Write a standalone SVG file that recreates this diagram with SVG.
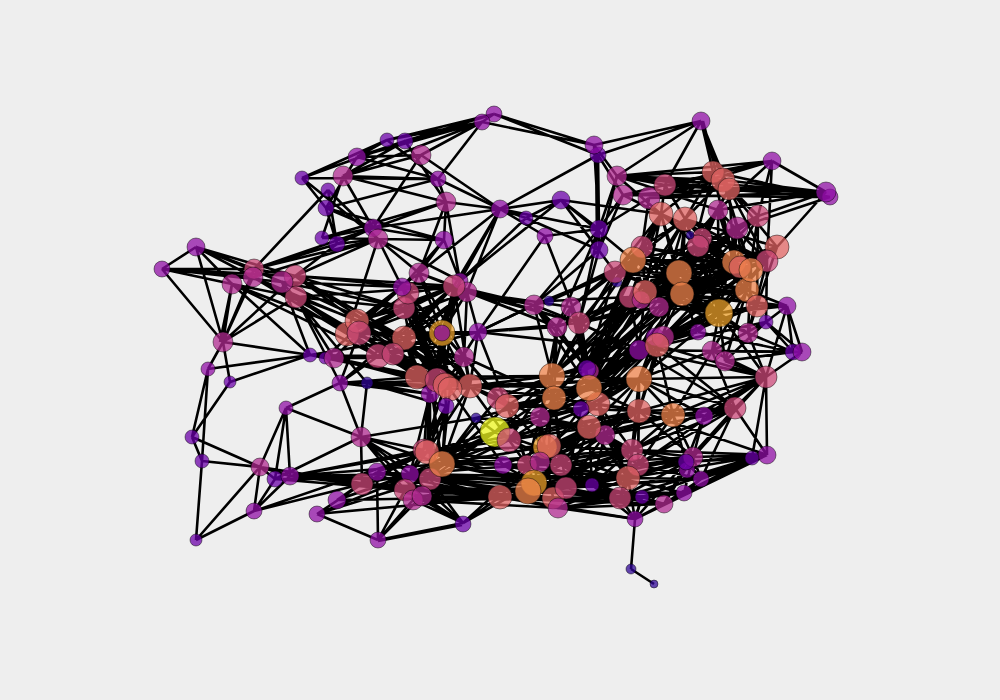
<svg xmlns="http://www.w3.org/2000/svg" width="1000" height="700" viewBox="0 0 1000 700">
<style>
#edges path{stroke:#000;stroke-width:2.6;fill:none}
.node circle{stroke:#000;stroke-opacity:.45;stroke-width:1;fill-opacity:.74}
.c1{fill:#2f0596}.c2{fill:#6a00a8}.c3{fill:#8f0da4}.c4{fill:#b12a90}.c5{fill:#cc4778}.c6{fill:#e16462}.c7{fill:#f1844b}.c8{fill:#eca02a}.c9{fill:#f0f921}
</style>
<rect width="1000" height="700" fill="#eeeeee"/>
<g id="edges">
<path d="M494 114L482 122M494 114L594 145M494 114L598 155M482 122L594 145M482 122L387 140M482 122L405 141M494 114L387 140M494 114L405 141M482 122L357 157M482 122L343 176M482 122L421 155M482 122L438 179M387 140L302 178M405 141L302 178M387 140L357 157M405 141L343 176M405 141L357 157M387 140L438 179M405 141L446 202M357 157L438 179M357 157L421 155M343 176L421 155M302 178L438 179M343 176L438 179M343 176L446 202M343 176L373 228M357 157L326 208M421 155L373 228M421 155L500 209M438 179L446 202M326 208L438 179M302 178L326 208M302 178L378 239M328 190L254 269M328 190L378 239M326 208L337 244M326 208L373 228M326 208L444 240M373 228L446 202M373 228L500 209M373 228L444 240M378 239L444 240M322 238L378 239M322 238L373 228M322 238L446 202M337 244L378 239M337 244L373 228M343 176L322 238M328 190L337 244"/>
<path d="M446 202L500 209M446 202L444 240M446 202L419 273M446 202L460 281M438 179L500 209M378 239L419 273M378 239L402 287M378 239L460 281M378 239L347 334M444 240L419 273M444 240L460 281M444 240L402 287M500 209L460 281M500 209L526 218M500 209L561 200M500 209L599 229M500 209L419 273M500 209L545 236M500 209L454 286M500 209L467 292M561 200L526 218M526 218L599 250M545 236L599 229M545 236L579 323M545 236L478 332M526 218L460 281M561 200L599 229M561 200L599 250M561 200L661 214M561 200L633 260M561 200L615 272M561 200L460 281"/>
<path d="M594 145L701 121M598 155L701 121M598 155L500 209M594 145L599 229M598 155L599 229M596 150L597 240M598 155L599 250M594 145L617 176M598 155L623 195M617 176L599 250M623 195L599 229M649 198L599 229M701 121L713 172M703 121L716 172M701 121L723 180M701 121L617 176M701 121L665 185M701 121L729 189"/>
<path d="M772 161L617 176M772 161L665 185M772 161L713 172M772 161L649 198M772 161L758 216M772 161L767 261M772 161L826 192M826 192L617 176M826 192L665 185M830 197L665 185M826 192L723 180M826 192L729 189M830 197L713 172M826 192L649 198M830 197L623 195M826 192L758 216M826 192L718 210M826 192L777 247M830 197L737 228M617 176L665 185M617 176L729 189M617 176L723 180M617 176L713 172M623 195L729 189M623 195L665 185M665 185L729 189M649 198L713 172M649 198L729 189M649 198L723 180M729 189L758 216M729 189L777 247M723 180L737 228M713 172L661 214M685 219L713 172M617 176L718 210M617 176L661 214M617 176L599 229M623 195L661 214M623 195L599 250M649 198L642 247M665 185L685 219M665 185L661 214M723 180L685 219M723 180L758 216M772 161L718 210M729 189L767 261"/>
<path d="M661 214L642 247M661 214L633 260M661 214L615 272M661 214L679 273M661 214L645 292M661 214L682 294M661 214L630 297M685 219L642 247M685 219L633 260M685 219L679 273M685 219L682 294M685 219L645 292M685 219L659 307M685 219L719 313M642 247L633 260M642 247L679 273M642 247L682 294M642 247L645 292M642 247L734 262M642 247L751 270M642 247L719 313M633 260L679 273M633 260L682 294M633 260L734 262M633 260L751 270M633 260L719 313M633 260L698 246M633 260L645 292M615 272L679 273M615 272L682 294M615 272L734 262M615 272L719 313M615 272L747 290M679 273L734 262M679 273L751 270M679 273L747 290M679 273L719 313M679 273L698 246M679 273L757 306M679 273L645 292M679 273L659 307M679 273L663 337M682 294L751 270M682 294L734 262M682 294L747 290M682 294L719 313M682 294L702 238M682 294L748 333M682 294L698 332M682 294L657 345M645 292L734 262M645 292L751 270M645 292L719 313M645 292L747 290M645 292L698 246M645 292L702 238M645 292L748 333M630 297L734 262M630 297L751 270M630 297L719 313M630 297L747 290M630 297L698 246M659 307L751 270M659 307L747 290M659 307L719 313M659 307L698 246M659 307L734 262M698 246L734 262M698 246L751 270M698 246L747 290M698 246L719 313M702 238L734 262M702 238L767 261M702 238L719 313M718 210L702 238M718 210L734 262M718 210L679 273M718 210L719 313M737 228L682 294M737 228L734 262M737 228L751 270M737 228L719 313M737 228L645 292M758 216L747 290M758 216L734 262M758 216L679 273M758 216L757 306M777 247L719 313M777 247L679 273M777 247L645 292M777 247L682 294M777 247L757 306M767 261L682 294M767 261L719 313M767 261L633 260M767 261L645 292M767 261L748 333M757 306L787 306M747 290L787 306M719 313L787 306M719 313L757 306M719 313L748 333M719 313L712 351M719 313L698 332M719 313L725 361M734 262L757 306M751 270L748 333M747 290L712 351M747 290L725 361M757 306L748 333M767 261L766 322M787 306L766 322M787 306L802 352M787 306L793 352M748 333L793 352M766 322L793 352M766 322L802 352M766 322L725 361M766 322L712 351M766 322L639 350M787 306L766 377M748 333L766 377M712 351L766 377M725 361L766 377M719 313L766 377M793 352L725 361M802 352L712 351M802 352L766 377M793 352L698 332"/>
<path d="M661 214L747 290M661 214L767 261M661 214L734 262M685 219L747 290M685 219L767 261M685 219L777 247M685 219L757 306M685 219L734 262M758 216L682 294M758 216L645 292M758 216L698 246M737 228L679 273M737 228L659 307M737 228L747 290M718 210L747 290M718 210L682 294M718 210L767 261M718 210L645 292M729 189L734 262M729 189L702 238M729 189L679 273M723 180L751 270M713 172L682 294M713 172L734 262M787 306L682 294M787 306L645 292M802 352L639 350M766 377L639 350M766 377L657 345M735 408L639 350M735 408L657 345M777 247L734 262M777 247L663 337M767 261L698 332M751 270L698 332M751 270L663 337M734 262L663 337M734 262L698 332M747 290L663 337M747 290L657 345M757 306L657 345M757 306L639 350"/>
<path d="M196 247L162 269M196 247L232 284M196 247L254 269M196 247L253 277M196 247L295 276M196 247L282 282M196 247L223 342M162 269L254 269M162 269L253 277M162 269L282 282M162 269L295 276M162 269L232 284M162 269L223 342M232 284L223 342M232 284L220 342M254 269L223 342M253 277L223 342M295 276L223 342M296 297L223 342M223 342L310 355M223 342L208 369M223 342L230 382M208 369L310 355M208 369L192 437M208 369L202 461M230 382L310 355M230 382L192 437M192 437L202 461M192 437L260 467M202 461L260 467M202 461L196 540M196 540L260 467M196 540L254 511M260 467L286 408M286 408L275 479M286 408L290 476M286 408L361 437M260 467L290 476M260 467L275 479M254 511L275 479M254 511L290 476M254 511L260 467M254 511L427 452M254 511L362 484M317 514L378 540M317 514L500 497M317 514L430 479M317 514L362 484M317 514L442 464M378 540L463 523M378 541L462 525M378 540L377 472M378 540L413 500M378 540L405 490M378 540L422 496M340 383L286 408M340 383L361 437M367 383L361 437M340 383L367 383M361 437L476 418M361 437L275 479M361 437L362 484M361 437L424 450M361 437L410 474M361 437L430 479M361 437L405 490M361 437L422 496M361 437L442 464M290 476L442 464M290 476L424 450M290 476L427 452M290 476L410 474M290 476L405 490M290 476L430 479M290 476L362 484M260 467L362 484M260 467L405 490M275 479L405 490M275 479L430 479M337 500L442 464M337 500L410 474M337 500L377 472M337 500L500 497M463 523L413 500M463 523L422 496M463 523L405 490M463 523L500 497M463 523L527 465M463 523L430 479M463 523L410 474M463 523L534 483"/>
<path d="M254 269L373 228M254 269L378 239M254 269L337 244M253 277L378 239M295 276L378 239M295 276L337 244M295 276L404 338M296 297L378 356M295 276L454 286M282 282L402 287M282 282L404 308M282 282L404 338M295 276L404 308M295 276L467 292M296 297L404 338M296 297L393 354M296 297L404 308M296 297L454 286M296 297L417 377M296 297L437 380M253 277L357 321M253 277L347 334M253 277L359 333M232 284L359 333M232 284L378 356M232 284L296 297M253 277L296 297M254 269L295 276M282 282L310 355M296 297L334 358M296 297L340 383M232 284L310 355M282 282L367 383M296 297L445 385M295 276L437 380M295 276L470 386M295 276L450 389M310 355L334 358M310 355L417 377M310 355L378 356M310 355L442 333M334 358L359 333M334 358L464 357M334 358L417 377M334 358L445 385M334 358L437 380M334 358L470 386M334 358L450 389M325 358L402 287M325 358L417 377M340 383L417 377M340 383L359 333M340 383L404 338M340 383L430 394M340 383L454 286M367 383L430 394M367 383L446 406M367 383L470 386M367 383L552 376M367 383L450 389"/>
<path d="M357 321L402 287M357 321L404 308M357 321L454 286M357 321L419 273M347 334L454 286M347 334L402 287M347 334L408 293M347 334L442 333M359 333L404 308M359 333L454 286M359 333L467 292M359 333L404 338M359 333L442 333M359 333L478 332M359 333L417 377M359 333L445 385M357 321L470 386M357 321L417 377M347 334L437 380M347 334L464 357M404 308L419 273M404 308L442 333M404 308L454 286M404 308L445 385M404 308L437 380M404 308L417 377M404 308L470 386M404 338L442 333M404 338L454 286M404 338L417 377M404 338L437 380M404 338L445 385M404 338L450 389M404 338L470 386M404 338L430 394M404 338L467 292M404 338L478 332M402 287L442 333M402 287L445 385M402 287L470 386M402 287L454 286M402 287L437 380M408 293L437 380M408 293L450 389M408 293L464 357M408 293L454 286M378 356L454 286M378 356L442 333M378 356L404 338M378 356L445 385M378 356L470 386M393 354L454 286M393 354L442 333M393 354L467 292M393 354L470 386M393 354L450 389M393 354L478 332M419 273L454 286M419 273L442 333M419 273L467 292M419 273L464 357M454 286L442 333M454 286L437 380M454 286L445 385M454 286L470 386M460 281L442 333M460 281L417 377M460 281L437 380M467 292L534 305M467 292L464 357M467 292L478 332M467 292L442 333M467 292L557 327M467 292L571 307M467 292L579 323M454 286L534 305M454 286L579 323M454 286L557 327M442 333L464 357M442 333L445 385M442 333L417 377M442 333L437 380M442 333L450 389M442 333L470 386M442 333L478 332M442 333L430 394M442 333L446 406M464 357L450 389M464 357L470 386M464 357L507 406M464 357L498 398M464 357L417 377M464 357L554 398M478 332L557 327M478 332L579 323M478 332L534 305M478 332L470 386M478 332L445 385M478 332L639 350M478 332L507 406"/>
<path d="M417 377L552 376M445 385L589 388M450 389L639 379M470 386L552 376M470 386L554 398M470 386L639 379M470 386L498 398M470 386L507 406M430 394L430 479M428 394L424 450M430 394L427 452M432 394L442 464M446 406L442 464M446 406L427 452M446 406L430 479M430 394L410 474M446 406L410 474M445 385L424 450M437 380L430 479M450 389L442 464M450 389L503 465M470 386L442 464M470 386L427 452M470 386L527 465M476 418L495 432M476 418L589 388M476 418L442 464M476 418L430 479M476 418L589 427M495 432L589 388M495 432L552 376M495 432L442 464M495 432L427 452M495 432L430 479M495 432L410 474M495 432L405 490M495 432L639 379M495 432L587 369M495 432L628 478M495 432L598 404M495 432L561 465M509 440L442 464M509 440L427 452M509 440L430 479M509 440L639 411M509 440L673 415M509 440L552 376M509 440L589 388M509 440L598 404M498 398L552 376M498 398L589 388M498 398L639 379M498 398L442 464M498 398L430 479M498 398L540 417M507 406L589 388M507 406L552 376M507 406L554 398M507 406L639 411M507 406L442 464M507 406L527 465M507 406L534 483M507 406L561 465M507 406L598 404"/>
<path d="M534 305L557 327M534 305L579 323M534 305L549 301M534 305L552 376M534 305L478 332M534 305L587 369M534 305L589 388M549 301L633 260M549 301L615 272M549 301L630 297M571 307L557 327M571 307L579 323M571 307L552 376M571 307L633 260M571 307L615 272M571 307L642 247M571 307L587 369M571 307L589 388M557 327L552 376M557 327L554 398M557 327L630 297M557 327L645 292M557 327L587 369M557 327L540 417M579 323L587 369M577 323L585 369M581 323L589 369M579 323L589 388M579 323L642 247M579 323L633 260M579 323L679 273M579 323L645 292M579 323L630 297M579 323L682 294M579 323L639 350M579 323L659 307M534 305L599 250M534 305L599 229M534 305L615 272M579 323L599 250M579 323L599 229M557 327L599 229"/>
<path d="M587 369L633 260M587 369L642 247M587 369L615 272M587 369L630 297M587 369L645 292M587 369L679 273M587 369L682 294M587 369L659 307M587 369L698 246M587 369L661 214M587 369L685 219M587 369L734 262M587 369L719 313M589 388L633 260M589 388L645 292M589 388L630 297M589 388L679 273M589 388L682 294M589 388L659 307M589 388L663 337M589 388L657 345M589 388L639 350M589 388L751 270M589 388L734 262M589 388L639 379M589 388L639 411M552 376L639 379M552 376L639 350M552 376L630 297M552 376L645 292M552 376L587 369M552 376L633 260M552 376L679 273M552 376L615 272M552 376L554 398M552 376L549 446M552 376L561 465M552 376L540 417M554 398L639 379M554 398L639 350M554 398L630 297M554 398L645 292M554 398L719 313M554 398L663 337M554 398L561 465M554 398L534 483M554 398L540 417M554 398L589 427M554 398L639 411M554 398L566 488M540 417L639 350M540 417L639 379M540 417L598 404M540 417L589 427M540 417L540 462M540 417L527 465M540 417L553 498M540 417L605 435M540 417L632 450M598 404L639 379M598 404L639 350M598 404L663 337M598 404L682 294M598 404L673 415M598 404L639 411M598 404L605 435M598 404L632 450M598 404L628 478M581 409L639 350M581 409L663 337M581 409L639 379M581 409L540 462M581 409L566 488M589 427L639 379M589 427L673 415M589 427L639 411M589 427L632 450M589 427L638 465M589 427L628 478M589 427L549 446M589 427L561 465M589 427L566 488M589 427L592 485M605 435L639 379M605 435L673 415M605 435L639 411M605 435L632 450M605 435L566 488M605 435L628 478M605 435L638 465M605 435L704 416"/>
<path d="M639 350L679 273M639 350L645 292M639 350L630 297M639 350L719 313M639 350L698 332M639 350L682 294M639 379L657 345M639 379L663 337M639 379L679 273M639 379L719 313M639 379L766 377M639 379L735 408M639 379L712 351M639 379L673 415M639 379L639 411M639 379L704 416M639 379L632 450M639 379L638 465M639 411L663 337M639 411L657 345M639 411L766 377M639 411L673 415M639 411L704 416M639 411L735 408M639 411L632 450M639 411L638 465M639 411L628 478M639 411L693 457M639 411L767 455M673 415L704 416M673 415L735 408M673 415L766 377M673 415L657 345M673 415L712 351M673 415L693 457M673 415L638 465M673 415L632 450M673 415L686 462M704 416L735 408M704 416L766 377M704 416L686 462M704 416L693 457M735 408L766 377M735 408L767 455M735 408L712 351M735 408L693 457M735 408L686 462M735 408L701 479M766 377L767 455M766 377L752 458M766 377L693 457M766 377L686 462M767 455L752 458M767 455L701 479M767 455L686 462M767 455L684 493M752 458L701 479M752 458L684 493M752 458L664 504M752 458L635 519M752 458L642 497M767 455L635 519M767 455L664 504M752 458L620 498M767 455L693 457M701 479L693 457M686 462L702 479M693 457L684 493M693 457L664 504M686 462L635 519M686 462L664 504M701 479L684 493M701 479L664 504M684 493L664 504M684 493L642 497M684 493L635 519M664 504L635 519M664 504L642 497M664 504L620 498M664 504L558 508M642 497L635 519M635 519L558 508M635 519L620 498M635 519L631 569M631 569L654 584M620 498L632 450M620 498L638 465M620 498L628 478M620 498L592 485M620 498L664 504M620 498L684 493M620 498L686 462M628 478L632 450M628 478L638 465M628 478L686 462M628 478L693 457M628 478L701 479M628 478L767 455M632 450L693 457M632 450L686 462M632 450L767 455M632 450L735 408M632 450L766 377M638 465L701 479M638 465L693 457M638 465L752 458M638 465L735 408M638 465L766 377"/>
<path d="M442 464L549 446M442 464L561 465M442 464L534 483M442 464L566 488M442 464L592 485M442 464L632 450M427 452L549 446M427 452L540 462M427 452L503 465M427 452L534 483M427 452L639 411M430 479L528 491M430 479L566 488M430 479L553 498M430 479L500 497M430 479L628 478M405 490L528 491M405 490L500 497M405 490L566 488M413 500L500 497M413 500L558 508M413 500L620 498M422 496L534 483M422 496L553 498M422 496L664 504M410 474L527 465M410 474L592 485M410 474L628 478M377 472L500 497M377 472L534 483M377 472L427 452M377 472L405 490M377 472L430 479M362 484L405 490M362 484L410 474M362 484L422 496M362 484L427 452M362 484L500 497M362 484L528 491M362 484L553 498M410 474L442 464M430 479L442 464M410 474L427 452M405 490L442 464"/>
<path d="M500 497L534 483M500 497L549 446M500 497L566 488M500 497L592 485M500 497L558 508M500 497L620 498M500 497L635 519M503 465L549 446M503 465L534 483M503 465L561 465M503 465L592 485M503 465L628 478M503 465L638 465M527 465L589 427M527 465L605 435M527 465L639 411M527 465L632 450M527 465L592 485M534 483L589 427M534 483L605 435M534 483L639 411M534 483L632 450M534 483L592 485M528 491L589 427M528 491L632 450M528 491L628 478M528 491L620 498M528 491L642 497M528 491L684 493M528 491L693 457M540 462L589 427M540 462L632 450M540 462L592 485M540 462L605 435M549 446L605 435M549 446L632 450M549 446L639 411M549 446L673 415M549 446L592 485M549 446L598 404M561 465L605 435M561 465L632 450M561 465L638 465M561 465L620 498M561 465L684 493M561 465L693 457M566 488L632 450M566 488L638 465M566 488L620 498M566 488L701 479M566 488L686 462M553 498L620 498M553 498L642 497M553 498L664 504M558 508L620 498M558 508L642 497M558 508L684 493M558 508L628 478M592 485L632 450M592 485L638 465M592 485L642 497M592 485L686 462M592 485L701 479M592 485L605 435M635 519L592 485M635 519L628 478M635 519L642 497"/>
</g>
<g id="n1" class="node"><circle cx="494" cy="114" r="8" class="c3"/></g>
<g id="n2" class="node"><circle cx="482" cy="122" r="8" class="c3"/></g>
<g id="n3" class="node"><circle cx="701" cy="121" r="9" class="c3"/></g>
<g id="n4" class="node"><circle cx="598" cy="155" r="8" class="c2"/></g>
<g id="n5" class="node"><circle cx="594" cy="145" r="9" class="c3"/></g>
<g id="n6" class="node"><circle cx="387" cy="140" r="7" class="c2"/></g>
<g id="n7" class="node"><circle cx="405" cy="141" r="8" class="c2"/></g>
<g id="n8" class="node"><circle cx="421" cy="155" r="10" class="c4"/></g>
<g id="n9" class="node"><circle cx="357" cy="157" r="9" class="c3"/></g>
<g id="n10" class="node"><circle cx="343" cy="176" r="10" class="c4"/></g>
<g id="n11" class="node"><circle cx="302" cy="178" r="7" class="c2"/></g>
<g id="n12" class="node"><circle cx="438" cy="179" r="8" class="c3"/></g>
<g id="n13" class="node"><circle cx="328" cy="190" r="7" class="c2"/></g>
<g id="n14" class="node"><circle cx="446" cy="202" r="10" class="c4"/></g>
<g id="n15" class="node"><circle cx="326" cy="208" r="8" class="c2"/></g>
<g id="n16" class="node"><circle cx="500" cy="209" r="9" class="c3"/></g>
<g id="n17" class="node"><circle cx="526" cy="218" r="7" class="c2"/></g>
<g id="n18" class="node"><circle cx="373" cy="228" r="9" class="c3"/></g>
<g id="n19" class="node"><circle cx="378" cy="239" r="10" class="c4"/></g>
<g id="n20" class="node"><circle cx="322" cy="238" r="7" class="c2"/></g>
<g id="n21" class="node"><circle cx="337" cy="244" r="8" class="c2"/></g>
<g id="n22" class="node"><circle cx="444" cy="240" r="9" class="c3"/></g>
<g id="n23" class="node"><circle cx="545" cy="236" r="8" class="c3"/></g>
<g id="n24" class="node"><circle cx="561" cy="200" r="9" class="c2"/></g>
<g id="n25" class="node"><circle cx="599" cy="229" r="9" class="c2"/></g>
<g id="n26" class="node"><circle cx="599" cy="250" r="9" class="c2"/></g>
<g id="n27" class="node"><circle cx="617" cy="176" r="10" class="c4"/></g>
<g id="n28" class="node"><circle cx="623" cy="195" r="10" class="c4"/></g>
<g id="n29" class="node"><circle cx="649" cy="198" r="11" class="c4"/></g>
<g id="n30" class="node"><circle cx="665" cy="185" r="11" class="c5"/></g>
<g id="n31" class="node"><circle cx="713" cy="172" r="11" class="c6"/></g>
<g id="n32" class="node"><circle cx="723" cy="180" r="12" class="c6"/></g>
<g id="n33" class="node"><circle cx="729" cy="189" r="11" class="c6"/></g>
<g id="n34" class="node"><circle cx="772" cy="161" r="9" class="c3"/></g>
<g id="n35" class="node"><circle cx="830" cy="197" r="8" class="c3"/></g>
<g id="n36" class="node"><circle cx="826" cy="192" r="10" class="c3"/></g>
<g id="n37" class="node"><circle cx="758" cy="216" r="11" class="c5"/></g>
<g id="n38" class="node"><circle cx="718" cy="210" r="10" class="c4"/></g>
<g id="n39" class="node"><circle cx="737" cy="228" r="11" class="c4"/></g>
<g id="n40" class="node"><circle cx="661" cy="214" r="12" class="c6"/></g>
<g id="n41" class="node"><circle cx="685" cy="219" r="12" class="c6"/></g>
<g id="n42" class="node"><circle cx="702" cy="238" r="10" class="c5"/></g>
<g id="n43" class="node"><circle cx="698" cy="246" r="11" class="c5"/></g>
<g id="n44" class="node"><circle cx="690" cy="235" r="4" class="c1"/></g>
<g id="n45" class="node"><circle cx="642" cy="247" r="11" class="c5"/></g>
<g id="n46" class="node"><circle cx="777" cy="247" r="12" class="c6"/></g>
<g id="n47" class="node"><circle cx="767" cy="261" r="11" class="c5"/></g>
<g id="n48" class="node"><circle cx="734" cy="262" r="12" class="c7"/></g>
<g id="n49" class="node"><circle cx="740" cy="267" r="11" class="c6"/></g>
<g id="n50" class="node"><circle cx="747" cy="290" r="12" class="c7"/></g>
<g id="n51" class="node"><circle cx="751" cy="270" r="12" class="c7"/></g>
<g id="n52" class="node"><circle cx="757" cy="306" r="11" class="c6"/></g>
<g id="n53" class="node"><circle cx="787" cy="306" r="9" class="c3"/></g>
<g id="n54" class="node"><circle cx="617" cy="282" r="5" class="c1"/></g>
<g id="n55" class="node"><circle cx="615" cy="272" r="11" class="c5"/></g>
<g id="n56" class="node"><circle cx="633" cy="260" r="13" class="c7"/></g>
<g id="n57" class="node"><circle cx="679" cy="273" r="13" class="c7"/></g>
<g id="n58" class="node"><circle cx="682" cy="294" r="12" class="c7"/></g>
<g id="n59" class="node"><circle cx="630" cy="297" r="11" class="c5"/></g>
<g id="n60" class="node"><circle cx="641" cy="300" r="9" class="c4"/></g>
<g id="n61" class="node"><circle cx="645" cy="292" r="12" class="c6"/></g>
<g id="n62" class="node"><circle cx="659" cy="307" r="10" class="c4"/></g>
<g id="n63" class="node"><circle cx="719" cy="313" r="14" class="c8"/></g>
<g id="n64" class="node"><circle cx="698" cy="332" r="8" class="c3"/></g>
<g id="n65" class="node"><circle cx="748" cy="333" r="10" class="c4"/></g>
<g id="n66" class="node"><circle cx="766" cy="322" r="7" class="c2"/></g>
<g id="n67" class="node"><circle cx="655" cy="337" r="9" class="c3"/></g>
<g id="n68" class="node"><circle cx="663" cy="337" r="11" class="c4"/></g>
<g id="n69" class="node"><circle cx="639" cy="350" r="10" class="c3"/></g>
<g id="n70" class="node"><circle cx="657" cy="345" r="12" class="c6"/></g>
<g id="n71" class="node"><circle cx="712" cy="351" r="10" class="c4"/></g>
<g id="n72" class="node"><circle cx="725" cy="361" r="10" class="c4"/></g>
<g id="n73" class="node"><circle cx="793" cy="352" r="8" class="c2"/></g>
<g id="n74" class="node"><circle cx="802" cy="352" r="9" class="c3"/></g>
<g id="n75" class="node"><circle cx="766" cy="377" r="11" class="c5"/></g>
<g id="n76" class="node"><circle cx="196" cy="247" r="9" class="c3"/></g>
<g id="n77" class="node"><circle cx="162" cy="269" r="8" class="c3"/></g>
<g id="n78" class="node"><circle cx="254" cy="269" r="10" class="c5"/></g>
<g id="n79" class="node"><circle cx="253" cy="277" r="10" class="c4"/></g>
<g id="n80" class="node"><circle cx="232" cy="284" r="10" class="c4"/></g>
<g id="n81" class="node"><circle cx="295" cy="276" r="11" class="c5"/></g>
<g id="n82" class="node"><circle cx="296" cy="297" r="11" class="c5"/></g>
<g id="n83" class="node"><circle cx="282" cy="282" r="11" class="c4"/></g>
<g id="n84" class="node"><circle cx="223" cy="342" r="10" class="c4"/></g>
<g id="n85" class="node"><circle cx="310" cy="355" r="7" class="c2"/></g>
<g id="n86" class="node"><circle cx="325" cy="358" r="6" class="c2"/></g>
<g id="n87" class="node"><circle cx="334" cy="358" r="10" class="c4"/></g>
<g id="n88" class="node"><circle cx="208" cy="369" r="7" class="c3"/></g>
<g id="n89" class="node"><circle cx="230" cy="382" r="6" class="c2"/></g>
<g id="n90" class="node"><circle cx="340" cy="383" r="8" class="c3"/></g>
<g id="n91" class="node"><circle cx="367" cy="383" r="6" class="c1"/></g>
<g id="n92" class="node"><circle cx="286" cy="408" r="7" class="c3"/></g>
<g id="n93" class="node"><circle cx="192" cy="437" r="7" class="c2"/></g>
<g id="n94" class="node"><circle cx="202" cy="461" r="7" class="c2"/></g>
<g id="n95" class="node"><circle cx="260" cy="467" r="9" class="c4"/></g>
<g id="n96" class="node"><circle cx="275" cy="479" r="8" class="c2"/></g>
<g id="n97" class="node"><circle cx="290" cy="476" r="9" class="c3"/></g>
<g id="n98" class="node"><circle cx="254" cy="511" r="8" class="c3"/></g>
<g id="n99" class="node"><circle cx="196" cy="540" r="6" class="c2"/></g>
<g id="n100" class="node"><circle cx="317" cy="514" r="8" class="c3"/></g>
<g id="n101" class="node"><circle cx="378" cy="540" r="8" class="c3"/></g>
<g id="n102" class="node"><circle cx="337" cy="500" r="9" class="c3"/></g>
<g id="n103" class="node"><circle cx="361" cy="437" r="10" class="c4"/></g>
<g id="n104" class="node"><circle cx="362" cy="484" r="11" class="c5"/></g>
<g id="n105" class="node"><circle cx="377" cy="472" r="9" class="c3"/></g>
<g id="n106" class="node"><circle cx="404" cy="308" r="11" class="c5"/></g>
<g id="n107" class="node"><circle cx="408" cy="293" r="11" class="c5"/></g>
<g id="n108" class="node"><circle cx="402" cy="287" r="9" class="c3"/></g>
<g id="n109" class="node"><circle cx="419" cy="273" r="10" class="c4"/></g>
<g id="n110" class="node"><circle cx="460" cy="281" r="8" class="c3"/></g>
<g id="n111" class="node"><circle cx="467" cy="292" r="10" class="c4"/></g>
<g id="n112" class="node"><circle cx="454" cy="286" r="11" class="c5"/></g>
<g id="n113" class="node"><circle cx="347" cy="334" r="12" class="c6"/></g>
<g id="n114" class="node"><circle cx="357" cy="321" r="12" class="c6"/></g>
<g id="n115" class="node"><circle cx="359" cy="333" r="12" class="c5"/></g>
<g id="n116" class="node"><circle cx="404" cy="338" r="12" class="c6"/></g>
<g id="n117" class="node"><circle cx="442" cy="333" r="13" class="c8"/></g>
<g id="n118" class="node"><circle cx="442" cy="333" r="8" class="c3"/></g>
<g id="n119" class="node"><circle cx="478" cy="332" r="9" class="c3"/></g>
<g id="n120" class="node"><circle cx="464" cy="357" r="10" class="c4"/></g>
<g id="n121" class="node"><circle cx="378" cy="356" r="12" class="c5"/></g>
<g id="n122" class="node"><circle cx="393" cy="354" r="11" class="c5"/></g>
<g id="n123" class="node"><circle cx="417" cy="377" r="12" class="c6"/></g>
<g id="n124" class="node"><circle cx="430" cy="394" r="9" class="c3"/></g>
<g id="n125" class="node"><circle cx="437" cy="380" r="12" class="c5"/></g>
<g id="n126" class="node"><circle cx="445" cy="385" r="12" class="c6"/></g>
<g id="n127" class="node"><circle cx="470" cy="386" r="12" class="c6"/></g>
<g id="n128" class="node"><circle cx="450" cy="389" r="12" class="c6"/></g>
<g id="n129" class="node"><circle cx="446" cy="406" r="8" class="c2"/></g>
<g id="n130" class="node"><circle cx="476" cy="418" r="5" class="c1"/></g>
<g id="n131" class="node"><circle cx="495" cy="432" r="15" class="c9"/></g>
<g id="n132" class="node"><circle cx="509" cy="440" r="12" class="c5"/></g>
<g id="n133" class="node"><circle cx="498" cy="398" r="11" class="c5"/></g>
<g id="n134" class="node"><circle cx="507" cy="406" r="12" class="c6"/></g>
<g id="n135" class="node"><circle cx="549" cy="301" r="5" class="c1"/></g>
<g id="n136" class="node"><circle cx="534" cy="305" r="10" class="c4"/></g>
<g id="n137" class="node"><circle cx="571" cy="307" r="10" class="c4"/></g>
<g id="n138" class="node"><circle cx="557" cy="327" r="10" class="c4"/></g>
<g id="n139" class="node"><circle cx="579" cy="323" r="11" class="c5"/></g>
<g id="n140" class="node"><circle cx="590" cy="371" r="9" class="c4"/></g>
<g id="n141" class="node"><circle cx="587" cy="369" r="9" class="c2"/></g>
<g id="n142" class="node"><circle cx="552" cy="376" r="13" class="c7"/></g>
<g id="n143" class="node"><circle cx="598" cy="404" r="12" class="c6"/></g>
<g id="n144" class="node"><circle cx="589" cy="388" r="13" class="c7"/></g>
<g id="n145" class="node"><circle cx="554" cy="398" r="12" class="c7"/></g>
<g id="n146" class="node"><circle cx="540" cy="417" r="10" class="c4"/></g>
<g id="n147" class="node"><circle cx="605" cy="435" r="10" class="c4"/></g>
<g id="n148" class="node"><circle cx="581" cy="409" r="8" class="c2"/></g>
<g id="n149" class="node"><circle cx="589" cy="427" r="12" class="c6"/></g>
<g id="n150" class="node"><circle cx="639" cy="379" r="13" class="c7"/></g>
<g id="n151" class="node"><circle cx="639" cy="411" r="12" class="c6"/></g>
<g id="n152" class="node"><circle cx="673" cy="415" r="12" class="c7"/></g>
<g id="n153" class="node"><circle cx="704" cy="416" r="9" class="c3"/></g>
<g id="n154" class="node"><circle cx="735" cy="408" r="11" class="c5"/></g>
<g id="n155" class="node"><circle cx="767" cy="455" r="9" class="c3"/></g>
<g id="n156" class="node"><circle cx="752" cy="458" r="7" class="c2"/></g>
<g id="n157" class="node"><circle cx="632" cy="450" r="11" class="c5"/></g>
<g id="n158" class="node"><circle cx="638" cy="465" r="11" class="c5"/></g>
<g id="n159" class="node"><circle cx="628" cy="478" r="12" class="c6"/></g>
<g id="n160" class="node"><circle cx="687" cy="470" r="8" class="c3"/></g>
<g id="n161" class="node"><circle cx="693" cy="457" r="10" class="c4"/></g>
<g id="n162" class="node"><circle cx="686" cy="462" r="8" class="c2"/></g>
<g id="n163" class="node"><circle cx="701" cy="479" r="8" class="c3"/></g>
<g id="n164" class="node"><circle cx="684" cy="493" r="8" class="c3"/></g>
<g id="n165" class="node"><circle cx="664" cy="504" r="9" class="c4"/></g>
<g id="n166" class="node"><circle cx="642" cy="497" r="7" class="c2"/></g>
<g id="n167" class="node"><circle cx="635" cy="519" r="8" class="c3"/></g>
<g id="n168" class="node"><circle cx="620" cy="498" r="11" class="c5"/></g>
<g id="n169" class="node"><circle cx="631" cy="569" r="5" class="c1"/></g>
<g id="n170" class="node"><circle cx="654" cy="584" r="4" class="c1"/></g>
<g id="n171" class="node"><circle cx="592" cy="485" r="7" class="c2"/></g>
<g id="n172" class="node"><circle cx="553" cy="498" r="11" class="c6"/></g>
<g id="n173" class="node"><circle cx="566" cy="488" r="11" class="c5"/></g>
<g id="n174" class="node"><circle cx="558" cy="508" r="10" class="c4"/></g>
<g id="n175" class="node"><circle cx="545" cy="447" r="12" class="c8"/></g>
<g id="n176" class="node"><circle cx="549" cy="446" r="12" class="c6"/></g>
<g id="n177" class="node"><circle cx="527" cy="465" r="10" class="c5"/></g>
<g id="n178" class="node"><circle cx="561" cy="465" r="11" class="c5"/></g>
<g id="n179" class="node"><circle cx="540" cy="462" r="10" class="c4"/></g>
<g id="n180" class="node"><circle cx="534" cy="483" r="13" class="c8"/></g>
<g id="n181" class="node"><circle cx="528" cy="491" r="13" class="c7"/></g>
<g id="n182" class="node"><circle cx="503" cy="465" r="9" class="c3"/></g>
<g id="n183" class="node"><circle cx="500" cy="497" r="12" class="c6"/></g>
<g id="n184" class="node"><circle cx="463" cy="524" r="8" class="c2"/></g>
<g id="n185" class="node"><circle cx="424" cy="450" r="11" class="c5"/></g>
<g id="n186" class="node"><circle cx="427" cy="452" r="12" class="c6"/></g>
<g id="n187" class="node"><circle cx="430" cy="479" r="11" class="c5"/></g>
<g id="n188" class="node"><circle cx="442" cy="464" r="13" class="c7"/></g>
<g id="n189" class="node"><circle cx="410" cy="474" r="9" class="c3"/></g>
<g id="n190" class="node"><circle cx="405" cy="490" r="11" class="c5"/></g>
<g id="n191" class="node"><circle cx="413" cy="500" r="10" class="c4"/></g>
<g id="n192" class="node"><circle cx="422" cy="496" r="10" class="c4"/></g>
</svg>
